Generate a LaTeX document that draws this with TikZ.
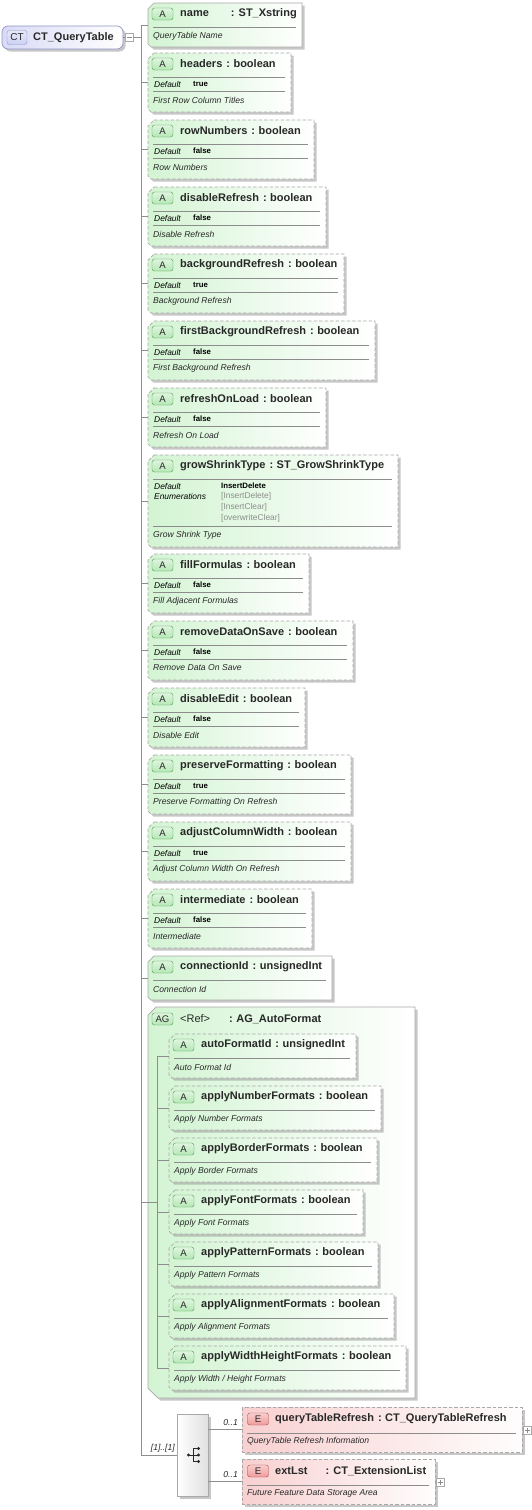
\documentclass[tikz,border=0pt]{standalone}
\usepackage{fontspec}
\setmainfont{Liberation Sans}
\usetikzlibrary{shadows,calc}
\definecolor{Wire}{HTML}{8E8E8E}
\definecolor{Frame}{HTML}{A9A9A9}
\definecolor{AttrFill}{HTML}{D3F4D3}
\definecolor{AttrEdge}{HTML}{4F9B4F}
\definecolor{AttrBadge}{HTML}{B6E8B6}
\definecolor{ElemFill}{HTML}{F8D0D0}
\definecolor{ElemEdge}{HTML}{B04A4A}
\definecolor{ElemBadge}{HTML}{F09C9C}
\definecolor{TypeFill}{HTML}{D9DAF6}
\definecolor{TypeEdge}{HTML}{9096C6}
\definecolor{TypeBadge}{HTML}{CDD0F4}
\definecolor{Ink}{HTML}{282828}
\definecolor{Soft}{HTML}{8C8C8C}
\newcommand{\tsep}{\hspace{4pt}:\hspace{3.5pt}}
\tikzset{conn/.style={draw=Wire,line width=0.8pt},
  castshadow/.style={drop shadow={shadow xshift=2.5pt,shadow yshift=-2.5pt,fill=black!40,opacity=.55}},
  reqframe/.style={draw=Frame,line width=0.7pt,left color=AttrFill,right color=white,castshadow},
  optframe/.style={reqframe,dash pattern=on 3.5pt off 2pt},
  elemframe/.style={draw=Frame,line width=0.7pt,left color=ElemFill,right color=white!96!ElemFill,
    castshadow,dash pattern=on 3.5pt off 2pt},
  hold/.style={anchor=north west,inner sep=0,outer sep=0},
  badge/.style={draw=AttrEdge,top color=white!55!AttrBadge,bottom color=AttrBadge,rounded corners=2.5pt,
    minimum width=21,minimum height=12,inner sep=0,font=\fontsize{9.6}{10}\selectfont,text=Ink},
  ebadge/.style={badge,draw=ElemEdge,top color=white!50!ElemBadge,bottom color=ElemBadge},
  tbadge/.style={badge,draw=TypeEdge,top color=white!50!TypeBadge,bottom color=TypeBadge,minimum width=20,
    minimum height=14,font=\fontsize{10}{11}\selectfont},
  atitle/.style={anchor=west,inner sep=0,font=\fontsize{11}{13}\selectfont\bfseries,text=Ink},
  adesc/.style={anchor=west,inner sep=0,font=\fontsize{8.6}{10}\selectfont\itshape,text=Ink},
  akey/.style={anchor=west,inner sep=0,font=\fontsize{8.4}{10}\selectfont\itshape,text=black},
  aval/.style={anchor=west,inner sep=0,font=\fontsize{7.8}{9}\selectfont\bfseries,text=black},
  aenum/.style={anchor=west,inner sep=0,font=\fontsize{8.4}{10}\selectfont,text=Soft},
  inrule/.style={draw=Soft,line width=0.6pt},
  mult/.style={anchor=east,inner sep=0,font=\fontsize{8.6}{10}\selectfont\itshape,text=Ink},
  expbox/.style={draw=Frame,fill=white,minimum size=8,inner sep=0}}
\newcommand{\attrframe}[6]{%
  \path[#2] ({#3+6},#4) -- ({#3+#5},#4) -- ({#3+#5},{#4+#6}) -- ({#3+3},{#4+#6})
    -- (#3,{#4+#6-3}) -- (#3,{#4+6}) -- cycle;
  \node[hold,minimum width=#5,minimum height=#6] (#1) at (#3,#4) {};}
\newcommand{\attrplain}[7]{%
  \attrframe{#1}{#2}{#3}{#4}{#5}{44}
  \node[badge] (#1-b) at ({#3+14.5},{#4+11}) {A};
  \node[atitle] (#1-t) at ({#3+32},{#4+11}) {#6};
  \draw[inrule] ({#3+5},{#4+24}) -- ({#3+#5-6},{#4+24});
  \node[adesc] (#1-d) at ({#3+5},{#4+33}) {#7};}
\newcommand{\attrdef}[8]{%
  \attrframe{#1}{#2}{#3}{#4}{#5}{59}
  \node[badge] (#1-b) at ({#3+14.5},{#4+11}) {A};
  \node[atitle] (#1-t) at ({#3+32},{#4+11}) {#6};
  \draw[inrule] ({#3+5},{#4+24}) -- ({#3+#5-6},{#4+24});
  \node[akey] (#1-k) at ({#3+6},{#4+31}) {Default};
  \node[aval] (#1-v) at ({#3+45},{#4+31}) {#7};
  \draw[inrule] ({#3+5},{#4+38}) -- ({#3+#5-6},{#4+38});
  \node[adesc] (#1-d) at ({#3+5},{#4+47}) {#8};}
\newcommand{\elembox}[6]{%
  \path[elemframe] (#2,#3) rectangle ({#2+#4},{#3+45});
  \node[hold,minimum width=#4,minimum height=45] (#1) at (#2,#3) {};
  \node[ebadge] (#1-b) at ({#2+16},{#3+12}) {E};
  \node[atitle] (#1-t) at ({#2+33},{#3+12}) {#5};
  \draw[inrule] ({#2+5},{#3+26}) -- ({#2+#4-6},{#3+26});
  \node[adesc] (#1-d) at ({#2+5},{#3+34}) {#6};
  \node[expbox] (#1-x) at ({#2+#4+5},{#3+23}) {};
  \draw[Soft,line width=0.5pt] ({#2+#4+2.5},{#3+23}) -- ({#2+#4+7.5},{#3+23})
    ({#2+#4+5},{#3+20.5}) -- ({#2+#4+5},{#3+25.5});}

\begin{document}
\begin{tikzpicture}[x=1pt,y=-1pt]
  \useasboundingbox[fill=white] (0,0) rectangle (531,1510);
  % root type
  \node[hold,draw=TypeEdge,line width=0.7pt,rounded corners=6pt,left color=TypeFill,right color=white,
    castshadow,minimum width=121,minimum height=23] (root) at (2,26) {};
  \node[tbadge] (root-b) at (17,37.5) {CT};
  \node[atitle] (root-t) at (33,37.5) {CT\_QueryTable};
  \node[expbox] (rootexp) at (129,37.5) {};
  \draw[Soft,line width=0.5pt] (126.5,37.5) -- (131.5,37.5);
  \coordinate (sptop) at (141,24.5);
  \coordinate (spbot) at (141,1455);
  % attributes
  \attrplain{name}{reqframe}{148}{3}{154}{name\hspace{22pt}: ST\_Xstring}{QueryTable Name}
  \attrdef{headers}{optframe}{148}{53}{143}{headers\tsep boolean}{true}{First Row Column Titles}
  \attrdef{rowNumbers}{optframe}{148}{120}{166}{rowNumbers\tsep boolean}{false}{Row Numbers}
  \attrdef{disableRefresh}{optframe}{148}{187}{178}{disableRefresh\tsep boolean}{false}{Disable Refresh}
  \attrdef{backgroundRefresh}{optframe}{148}{254}{196}{backgroundRefresh\tsep boolean}{true}{Background Refresh}
  \attrdef{firstBackgroundRefresh}{optframe}{148}{321}{227}{firstBackgroundRefresh\tsep boolean}{false}{First Background Refresh}
  \attrdef{refreshOnLoad}{optframe}{148}{388}{178}{refreshOnLoad\tsep boolean}{false}{Refresh On Load}
  \attrframe{growShrinkType}{optframe}{148}{455}{250}{92}
  \node[badge] (growShrinkType-b) at (162.5,466) {A};
  \node[atitle] (growShrinkType-t) at (180,466) {growShrinkType\tsep ST\_GrowShrinkType};
  \draw[inrule] (153,479) -- (392,479);
  \node[akey] (growShrinkType-k) at (154,486) {Default};
  \node[aval] (growShrinkType-v) at (221,486) {InsertDelete};
  \node[akey] (growShrinkType-e) at (154,496) {Enumerations};
  \node[aenum] (enum1) at (221,496) {[InsertDelete]};
  \node[aenum] (enum2) at (221,507) {[InsertClear]};
  \node[aenum] (enum3) at (221,518) {[overwriteClear]};
  \draw[inrule] (153,526) -- (392,526);
  \node[adesc] (growShrinkType-d) at (153,535) {Grow Shrink Type};
  \attrdef{fillFormulas}{optframe}{148}{554}{161}{fillFormulas\tsep boolean}{false}{Fill Adjacent Formulas}
  \attrdef{removeDataOnSave}{optframe}{148}{621}{205}{removeDataOnSave\tsep boolean}{false}{Remove Data On Save}
  \attrdef{disableEdit}{optframe}{148}{688}{157}{disableEdit\tsep boolean}{false}{Disable Edit}
  \attrdef{preserveFormatting}{optframe}{148}{755}{203}{preserveFormatting\tsep boolean}{true}{Preserve Formatting On Refresh}
  \attrdef{adjustColumnWidth}{optframe}{148}{822}{203}{adjustColumnWidth\tsep boolean}{true}{Adjust Column Width On Refresh}
  \attrdef{intermediate}{optframe}{148}{889}{164}{intermediate\tsep boolean}{false}{Intermediate}
  \attrplain{connectionId}{reqframe}{148}{956}{184}{connectionId\tsep unsignedInt}{Connection Id}
  % attribute group
  \path[draw=Frame,line width=0.7pt,left color=AttrFill,right color=white,castshadow]
    (156,1007) -- (415,1007) -- (415,1398) -- (158,1398) -- (148,1388) -- (148,1015) -- cycle;
  \node[hold,minimum width=267,minimum height=391] (autoFormat) at (148,1007) {};
  \node[badge] (autoFormat-b) at (162.5,1019) {AG};
  \node[atitle,font=\fontsize{11}{13}\selectfont] (autoFormat-r) at (180,1019) {<Ref>};
  \node[atitle] (autoFormat-t) at (229,1019) {:\hspace{3.5pt}AG\_AutoFormat};
  \attrplain{autoFormatId}{optframe}{169}{1034}{187}{autoFormatId\tsep unsignedInt}{Auto Format Id}
  \attrplain{applyNumberFormats}{optframe}{169}{1086}{212}{applyNumberFormats\tsep boolean}{Apply Number Formats}
  \attrplain{applyBorderFormats}{optframe}{169}{1138}{208}{applyBorderFormats\tsep boolean}{Apply Border Formats}
  \attrplain{applyFontFormats}{optframe}{169}{1190}{194}{applyFontFormats\tsep boolean}{Apply Font Formats}
  \attrplain{applyPatternFormats}{optframe}{169}{1242}{209}{applyPatternFormats\tsep boolean}{Apply Pattern Formats}
  \attrplain{applyAlignmentFormats}{optframe}{169}{1294}{225}{applyAlignmentFormats\tsep boolean}{Apply Alignment Formats}
  \attrplain{applyWidthHeightFormats}{optframe}{169}{1346}{237}{applyWidthHeightFormats\tsep boolean}{Apply Width / Height Formats}
  \coordinate (agtop) at (157,1056);
  \coordinate (agbot) at (157,1368);
  % sequence and elements
  \path[draw=Frame,line width=0.7pt,left color=white,right color=black!12,castshadow] (177,1414) rectangle (208,1496);
  \node[hold,minimum width=31,minimum height=82] (seq) at (177,1414) {};
  \draw[Ink,line width=0.7pt] (188.5,1455) -- (193,1455) (193,1448.5) -- (193,1461.5)
    (193,1448.5) -- (198.5,1448.5) (193,1461.5) -- (198.5,1461.5) (193,1455) -- (198.5,1455);
  \foreach \dy in {1448.5,1455,1461.5} \fill[Ink] (198.5,\dy) circle (1.7);
  \fill[Ink] (188.5,1455) circle (1.7);
  \elembox{queryTableRefresh}{242}{1407}{280}{queryTableRefresh\tsep CT\_QueryTableRefresh}{QueryTable Refresh Information}
  \elembox{extLst}{242}{1459}{193}{extLst\hspace{18pt}: CT\_ExtensionList}{Future Feature Data Storage Area}
  % connectors
  \draw[conn] (root.east) -- (rootexp.west);
  \draw[conn] (rootexp.east) -- (rootexp.east -| sptop);
  \draw[conn] (sptop) -- (spbot) -- (spbot -| seq.west);
  \foreach \n in {name,headers,rowNumbers,disableRefresh,backgroundRefresh,firstBackgroundRefresh,
      refreshOnLoad,growShrinkType,fillFormulas,removeDataOnSave,disableEdit,preserveFormatting,
      adjustColumnWidth,intermediate,connectionId}
    \draw[conn] (\n.west -| sptop) -- (\n.west);
  \draw[conn] (autoFormat.west -| sptop) -- (autoFormat.west -| agtop);
  \draw[conn] (agtop) -- (agbot);
  \foreach \n in {autoFormatId,applyNumberFormats,applyBorderFormats,applyFontFormats,
      applyPatternFormats,applyAlignmentFormats,applyWidthHeightFormats}
    \draw[conn] (\n.west -| agtop) -- (\n.west);
  \draw[conn] (queryTableRefresh.west -| seq.east) -- (queryTableRefresh.west);
  \draw[conn] (extLst.west -| seq.east) -- (extLst.west);
  \node[mult] (seqmult) at (175,1448) {[1]..[1]};
  \node[mult] (qtrmult) at (238,1423) {0..1};
  \node[mult] (extmult) at (238,1475) {0..1};
\end{tikzpicture}
\end{document}
